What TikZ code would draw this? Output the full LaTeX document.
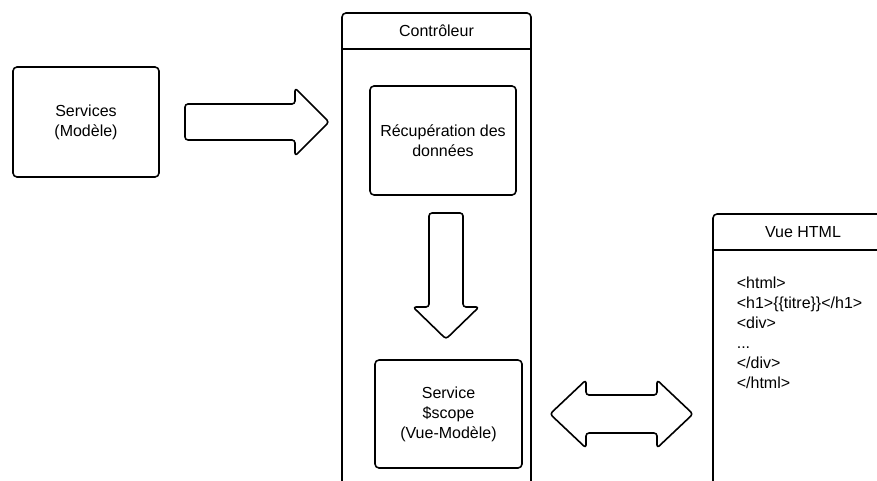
\documentclass[tikz,border=0pt]{standalone}
\usepackage{fontspec}
\setmainfont{Liberation Sans}
\begin{document}
\begin{tikzpicture}[x=1pt, y=-1pt, line width=1.6pt, line join=round,
    font=\fontsize{16}{20}\selectfont,
    box/.style={draw, rounded corners=4pt, align=center, inner sep=0pt},
    bigarrow/.style={draw, rounded corners=3pt}]
    \useasboundingbox (0,0) rectangle (877,481);
    \clip (0,0) rectangle (877,481);
    % Modele
    \node[box, minimum width=146pt, minimum height=110pt] (services) at (86,122) {Services\\(Modèle)};
    % Fleche vers le controleur
    \draw[bigarrow] (185,104) -- (295,104) -- (295,88) -- (329,122) -- (295,156) -- (295,140) -- (185,140) -- cycle;
    % Controleur
    \draw[rounded corners=4pt] (342,520) |- (531,13) -- (531,520);
    \draw (342,49) -- (531,49);
    \node (ctrl) at (436.5,31) {Contrôleur};
    \node[box, minimum width=146pt, minimum height=109pt] (recup) at (443,140.5) {Récupération des\\données};
    \draw[bigarrow] (429,213) -- (463,213) -- (463,307) -- (479,307) -- (446,339) -- (413,307) -- (429,307) -- cycle;
    \node[box, minimum width=147pt, minimum height=108pt] (scope) at (448.5,414) {Service\\\$scope\\(Vue-Modèle)};
    % Double fleche
    \draw[bigarrow] (550,414) -- (586,380) -- (586,395) -- (657,395) -- (657,380) -- (693,414)
        -- (657,448) -- (657,433) -- (586,433) -- (586,448) -- cycle;
    % Vue HTML
    \draw[rounded corners=4pt] (713,520) |- (900,214);
    \draw (713,250) -- (900,250);
    \node (vue) at (803,232) {Vue HTML};
    \node[anchor=north west, align=left, inner sep=0pt] (html) at (736,276)
        {<html>\\<h1>\{\{titre\}\}</h1>\\<div>\\...\\</div>\\</html>};
\end{tikzpicture}
\end{document}
